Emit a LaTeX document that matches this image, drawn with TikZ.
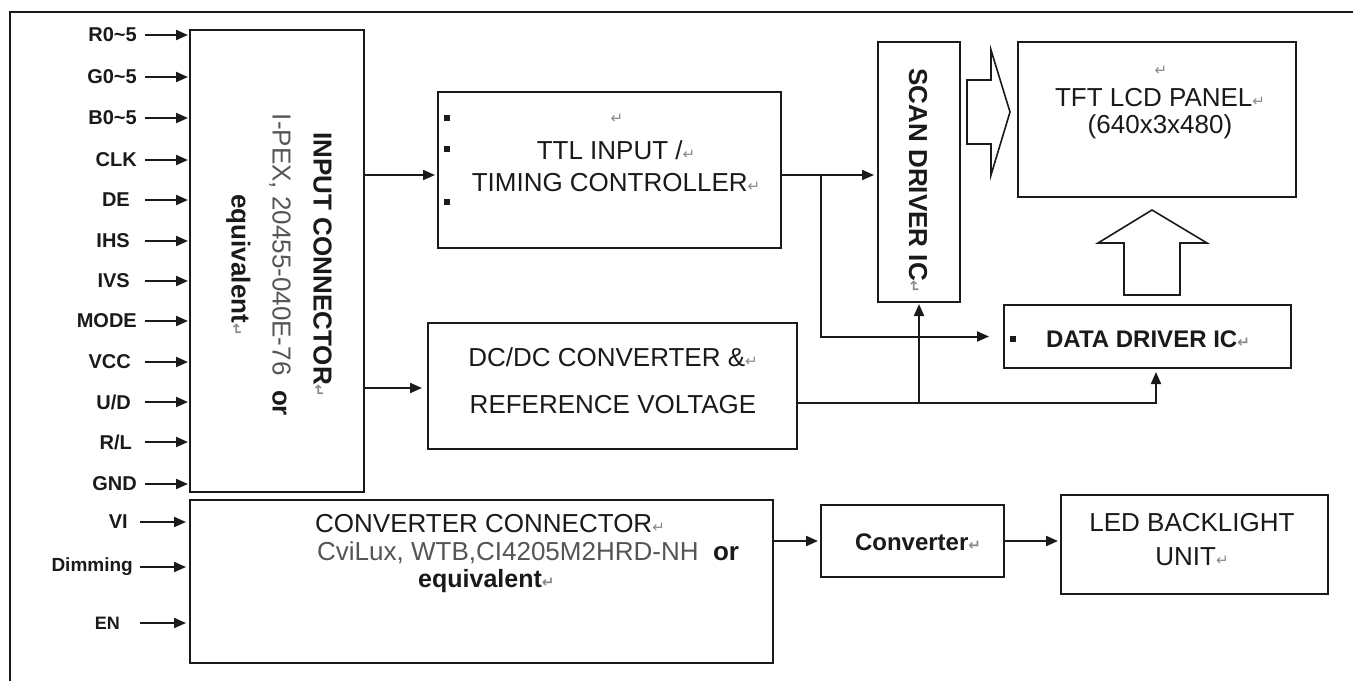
\documentclass[tikz,border=0pt]{standalone}
\usepackage{fontspec}
\setmainfont{Liberation Sans}
\newfontfamily\dvs{DejaVu Sans}
\usetikzlibrary{arrows.meta}
\definecolor{ink}{HTML}{1A1A1A}
\definecolor{soft}{HTML}{555555}
\definecolor{pmark}{HTML}{8A8A8A}
\newcommand{\retmark}{{\color{pmark}\dvs\fontsize{15pt}{15pt}\selectfont ↵}}
\tikzset{
  box/.style={draw=ink, line width=2pt, inner sep=0pt},
  lbl/.style={font=\bfseries\fontsize{20pt}{20pt}\selectfont, text=ink, inner sep=0pt, anchor=east},
  slbl/.style={font=\bfseries\fontsize{18pt}{18pt}\selectfont, text=ink, inner sep=0pt, anchor=east},
  arr/.style={draw=ink, line width=2pt, -{Triangle[length=12pt,width=10pt]}},
  txt/.style={text=ink, inner sep=0pt, align=center},
  big/.style={font=\fontsize{26pt}{31pt}\selectfont},
  bigb/.style={font=\bfseries\fontsize{26pt}{31pt}\selectfont},
  hollow/.style={draw=ink, line width=1.6pt, line join=miter},
}
\begin{document}
\begin{tikzpicture}[x=1pt,y=-1pt]
\useasboundingbox (0,0) rectangle (1353,681);
\fill[white] (0,0) rectangle (1353,681);
% outer frame
\draw[ink, line width=2pt] (10,681) -- (10,12) -- (1353,12);

% boxes
\node[box, minimum width=174pt, minimum height=462pt] (inconn) at (277,261) {};
\node[box, minimum width=343pt, minimum height=156pt] (ttl) at (609.5,170) {};
\node[box, minimum width=369pt, minimum height=126pt] (dcdc) at (612.5,386) {};
\node[box, minimum width=82pt, minimum height=260pt] (scan) at (919,172) {};
\node[box, minimum width=278pt, minimum height=155pt] (tft) at (1157,119.5) {};
\node[box, minimum width=287pt, minimum height=63pt] (dd) at (1147.5,336.5) {};
\node[box, minimum width=583pt, minimum height=163pt] (cconn) at (481.5,581.5) {};
\node[box, minimum width=183pt, minimum height=72pt] (conv) at (912.5,541) {};
\node[box, minimum width=267pt, minimum height=99pt] (led) at (1194.5,544.5) {};

% texts in boxes
\node[txt, rotate=-90, font=\bfseries\fontsize{26pt}{41pt}\selectfont] (inconntxt) at (279,265)
  {INPUT CONNECTOR\retmark\\{\mdseries\color{soft}I-PEX, 20455-040E-76}\ \ or\\equivalent\retmark};
\node[txt] (ttlret) at (617,119) {\retmark};
\node[txt, font=\fontsize{26pt}{32pt}\selectfont] (ttltxt) at (616,166) {TTL INPUT /\retmark\\TIMING CONTROLLER\retmark};
\fill[ink] (444,115) rectangle (450,121);
\fill[ink] (444,146) rectangle (450,152);
\fill[ink] (444,199) rectangle (450,205);
\node[txt, font=\fontsize{26pt}{47pt}\selectfont] (dctxt) at (613,381) {DC/DC CONVERTER \&\retmark\\REFERENCE VOLTAGE};
\node[txt, rotate=-90, bigb] (scantxt) at (918,181) {SCAN DRIVER IC\retmark};
\node[txt] (tftret) at (1161,71) {\retmark};
\node[txt, font=\fontsize{26pt}{27pt}\selectfont] (tfttxt) at (1160,114) {TFT LCD PANEL\retmark\\(640x3x480)};
\fill[ink] (1010,336) rectangle (1016,342);
\node[txt, font=\bfseries\fontsize{24pt}{28pt}\selectfont] (ddtxt) at (1148,339) {DATA DRIVER IC\retmark};
\node[txt, big, anchor=west] (cc1) at (315,524) {CONVERTER CONNECTOR\retmark};
\node[txt, big, anchor=west] (cc2) at (317,553) {{\color{soft}CviLux, WTB,CI4205M2HRD-NH}\ \ \textbf{or}};
\node[txt, font=\bfseries\fontsize{25pt}{30pt}\selectfont, anchor=west] (cc3) at (418,581) {equivalent\retmark};
\node[txt, font=\bfseries\fontsize{24pt}{28pt}\selectfont] (convtxt) at (918,542) {Converter\retmark};
\node[txt, font=\fontsize{26pt}{34pt}\selectfont] (ledtxt) at (1192,540) {LED BACKLIGHT\\UNIT\retmark};

% hollow arrows
\draw[hollow] (967,80) -- (991,80) -- (991,50) -- (1010,112) -- (991,175) -- (991,144) -- (967,144) -- cycle;
\draw[hollow] (1152,210) -- (1207,243) -- (1180,243) -- (1180,295) -- (1124,295) -- (1124,243) -- (1098,243) -- cycle;

% input labels
\foreach \nm/\tx/\xx/\yy in {la/R0\textasciitilde5/137/35, lb/G0\textasciitilde5/137/77, lc/B0\textasciitilde5/137/118,
  ld/CLK/137/160, le/DE/130/200, lf/IHS/130/241, lg/IVS/130/281, lh/MODE/137/321, li/VCC/131/362,
  lj/U\slash D/131/402, lk/R\slash L/132/442, ll/GND/137/484}{
  \node[lbl] (\nm) at (\xx,\yy) {\tx};
  \draw[arr, shorten >=1pt] (\nm.east -| 145,0) -- (\nm.east -| inconn.west);
}
\node[lbl] (lm) at (128,522) {VI};
\node[slbl, font=\bfseries\fontsize{19pt}{19pt}\selectfont] (ln) at (133,567) {Dimming};
\node[slbl] (lo) at (120,623) {EN};
\foreach \nm in {lm,ln,lo}{
  \draw[arr, shorten >=3pt] (\nm.east -| 140,0) -- (\nm.east -| cconn.west);
}

% connectors
\coordinate (inout1) at (364,175);
\coordinate (inout2) at (364,388);
\coordinate (ttlout) at (781,175);
\coordinate (br1) at (821,175);
\coordinate (dcout) at (797,403);
\coordinate (br2) at (919,403);
\coordinate (ddin) at (1156,368);
\draw[arr, shorten >=2pt] (inout1) -- (inout1 -| ttl.west);
\draw[arr, shorten >=5pt] (inout2) -- (inout2 -| dcdc.west);
\draw[arr, shorten >=3pt] (ttlout) -- (ttlout -| scan.west);
\draw[arr, shorten >=14pt] (br1) |- (dd.west);
\draw[arr, shorten >=4pt] (dcout) -| (ddin);
\draw[arr, shorten >=1pt] (br2) -- (scan.south);
\draw[arr, shorten >=2pt] (cconn.east |- conv.west) -- (conv.west);
\draw[arr, shorten >=2pt] (conv.east) -- (conv.east -| led.west);
\end{tikzpicture}
\end{document}
